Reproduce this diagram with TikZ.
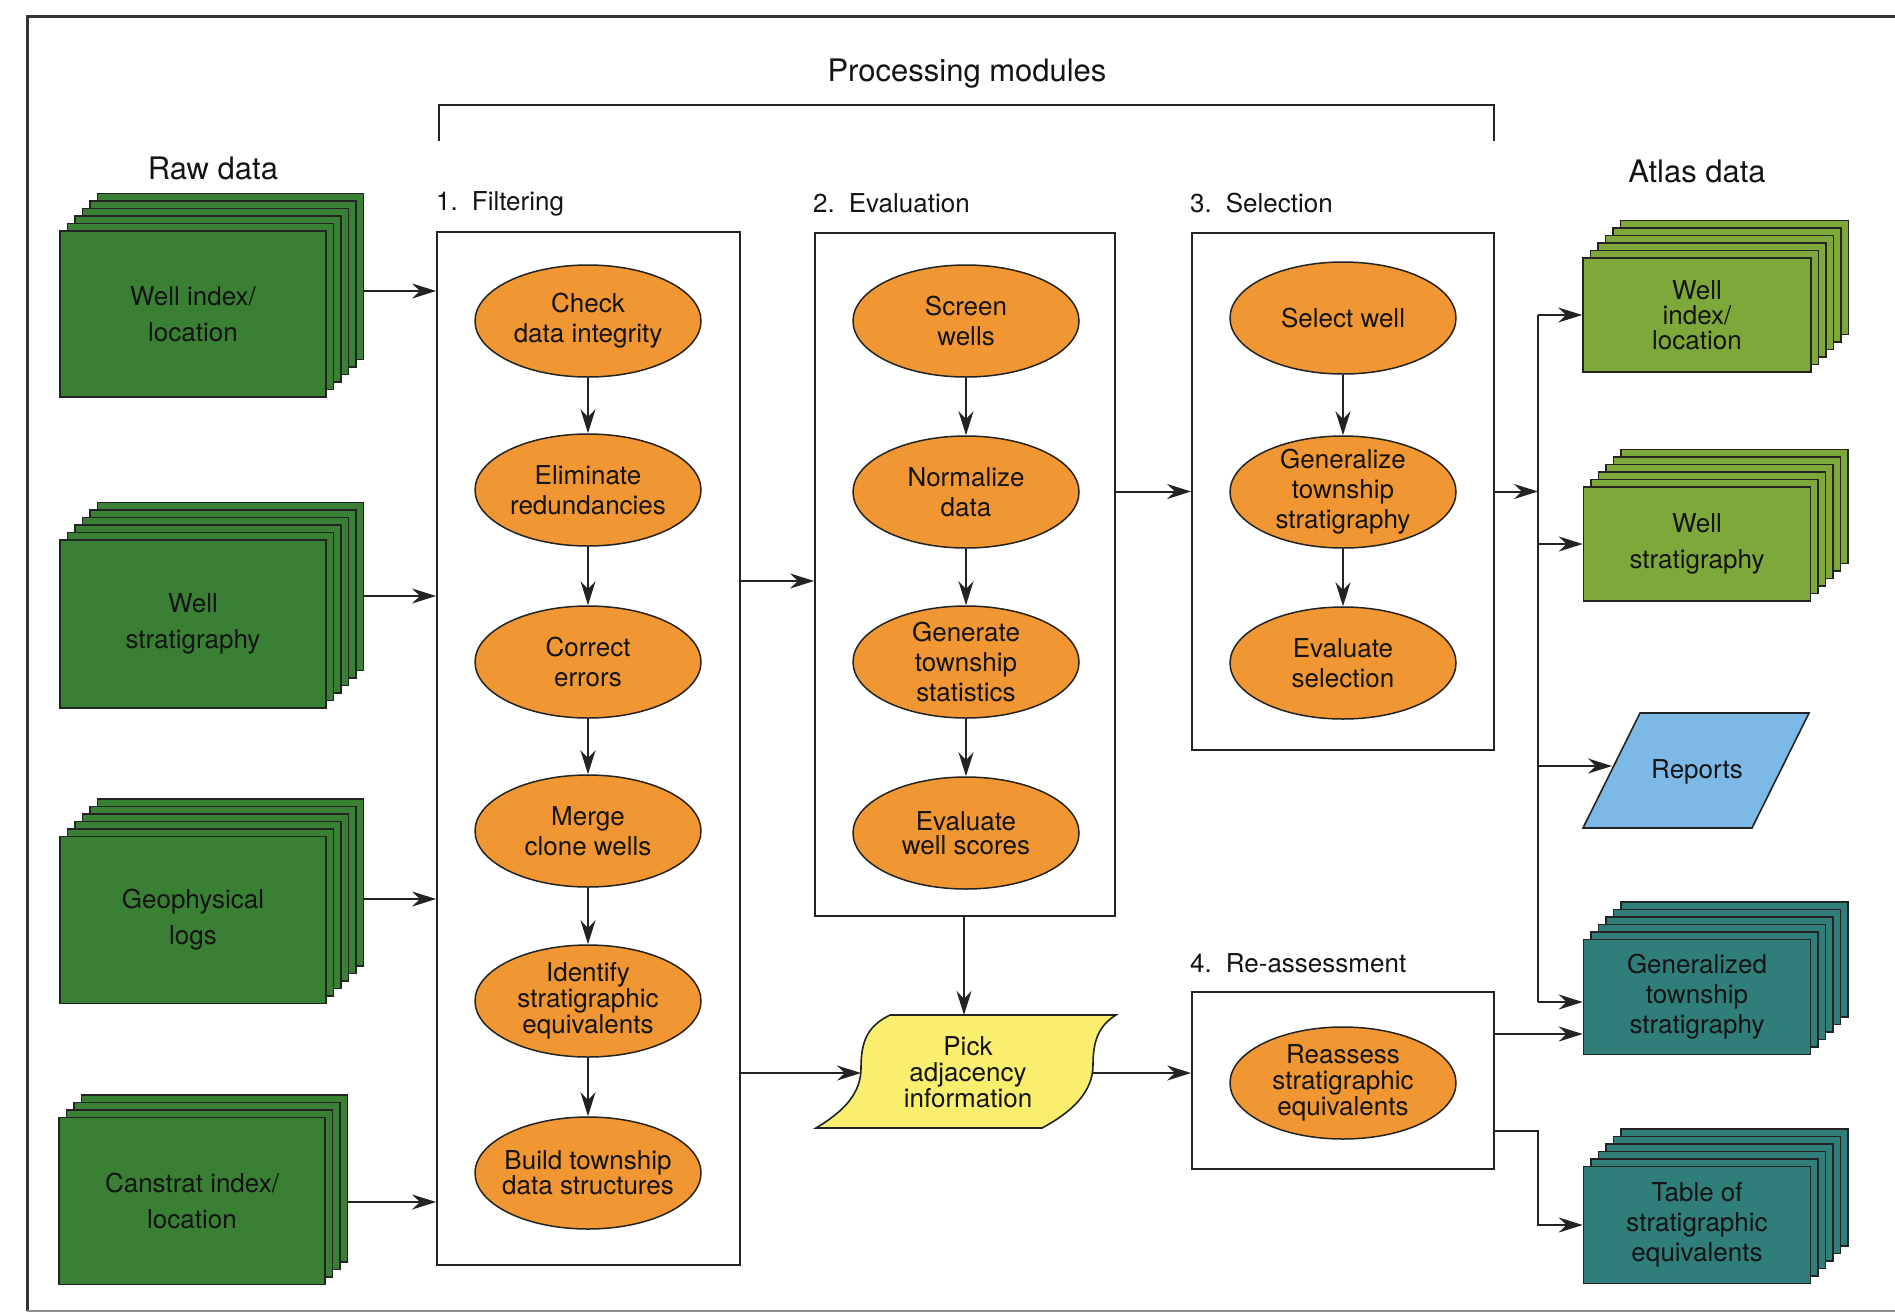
\documentclass[tikz,border=0pt]{standalone}
\usepackage{fontspec}
\setmainfont{TeX Gyre Heros}
\usetikzlibrary{arrows.meta,shapes.geometric,calc}
\definecolor{rawgreen}{RGB}{58,128,52}
\definecolor{atlasgreen}{RGB}{126,168,58}
\definecolor{atlasteal}{RGB}{48,126,122}
\definecolor{repblue}{RGB}{125,185,230}
\definecolor{procorange}{RGB}{240,150,50}
\definecolor{pickyellow}{RGB}{250,238,110}
\definecolor{textc}{RGB}{20,20,20}
\definecolor{linec}{RGB}{35,35,35}

\newcommand{\stackcard}[9]{%
  \foreach \i in {#6,...,1}{
    \filldraw[fill=#7, draw=linec, line width=1.6pt] ({#2-#4/2+\i*7.5},{#3-#5/2-\i*7.5}) rectangle ++(#4,#5);
  }
  \node[card, fill=#7, minimum width=#4, minimum height=#5, font=#8] (#1) at (#2,#3) {#9};
}

\begin{document}
\begin{tikzpicture}[x=1pt,y=-1pt,
  card/.style={draw=linec, line width=1.6pt, inner sep=0pt, align=center, text=textc},
  modbox/.style={draw=linec, line width=1.8pt, inner sep=0pt},
  proc/.style={ellipse, draw=linec, line width=1.5pt, fill=procorange, minimum width=226, minimum height=112, inner sep=0pt},
  ptext/.style={align=center, text=textc, inner sep=0pt, font=\fontsize{26}{30}\selectfont},
  title/.style={text=textc, inner sep=0pt, font=\fontsize{31}{36}\selectfont},
  modlabel/.style={text=textc, inner sep=0pt, anchor=west, font=\fontsize{26}{30}\selectfont},
  conn/.style={draw=linec, line width=2pt},
  arr/.style={conn, -{Stealth[length=24pt,width=15pt]}}
]
\useasboundingbox (0,0) rectangle (1895,1315);
\fill[white] (0,0) rectangle (1895,1315);

% outer frame
\draw[line width=3pt, black!80] (1895,16) -- (27,16) -- (27,1311);
\draw[line width=2pt, black!45] (27,1311) -- (1895,1311);

% titles
\node[title] (tProc) at (967,74) {Processing modules};
\node[title] (tRaw) at (213,168) {Raw data};
\node[title] (tAtlas) at (1697,171) {Atlas data};
\draw[conn] (439,141) -- (439,105) -- (1494,105) -- (1494,141);

\node[modlabel] (t1) at (436,204) {1.\hspace{14pt}Filtering};
\node[modlabel] (t2) at (813,203) {2.\hspace{14pt}Evaluation};
\node[modlabel] (t3) at (1190,203) {3.\hspace{14pt}Selection};
\node[modlabel] (t4) at (1190,963) {4.\hspace{14pt}Re-assessment};

% module boxes
\node[modbox, minimum width=303, minimum height=1033] (filt) at (588.5,748.5) {};
\node[modbox, minimum width=300, minimum height=683] (eval) at (965,574.5) {};
\node[modbox, minimum width=302, minimum height=517] (sel) at (1343,491.5) {};
\node[modbox, minimum width=302, minimum height=177] (reas) at (1343,1080.5) {};

% raw data stacks
\stackcard{rawA}{193}{314}{266}{166}{5}{rawgreen}{\fontsize{26}{36}\selectfont}{Well index/\\location}
\stackcard{rawB}{193}{624}{266}{168}{5}{rawgreen}{\fontsize{26}{36}\selectfont}{Well\\stratigraphy}
\stackcard{rawC}{193}{920}{266}{167}{5}{rawgreen}{\fontsize{26}{36}\selectfont}{Geophysical\\logs}
\stackcard{rawD}{192}{1201}{266}{167}{3}{rawgreen}{\fontsize{26}{36}\selectfont}{Canstrat index/\\location}

% atlas data stacks
\stackcard{atA}{1697}{315}{228}{114}{5}{atlasgreen}{\fontsize{26}{25}\selectfont}{Well\\index/\\location}
\stackcard{atB}{1697}{544}{227}{114}{5}{atlasgreen}{\fontsize{26}{36}\selectfont}{Well\\stratigraphy}
\stackcard{atG}{1697}{997}{227}{115}{5}{atlasteal}{\fontsize{26}{30}\selectfont}{Generalized\\township\\stratigraphy}
\stackcard{atT}{1697}{1225}{227}{117}{5}{atlasteal}{\fontsize{26}{30}\selectfont}{Table of\\stratigraphic\\equivalents}

% reports
\filldraw[fill=repblue, draw=linec, line width=1.6pt] (1640,713) -- (1809,713) -- (1752,828) -- (1583,828) -- cycle;
\node[ptext] (reports) at (1697,772) {Reports};
\coordinate (repL) at (1612,766);

% pick adjacency information
\filldraw[fill=pickyellow, draw=linec, line width=1.6pt]
  (890,1015) -- (1116,1015)
  .. controls (1098,1026) and (1093,1042) .. (1093,1065)
  .. controls (1093,1092) and (1072,1112) .. (1042,1128)
  -- (816,1128)
  .. controls (846,1110) and (861,1092) .. (861,1068)
  .. controls (861,1040) and (868,1026) .. (890,1015) -- cycle;
\node[ptext, font=\fontsize{26}{26}\selectfont] (pick) at (968,1072) {Pick\\adjacency\\information};
\coordinate (pickL) at (861,1073);
\coordinate (pickR) at (1093,1073);
\coordinate (pickT) at (964,1015);

% filtering processes
\node[proc, label={[ptext]center:{Check\\data integrity}}] (f1) at (588,321) {};
\node[proc, label={[ptext]center:{Eliminate\\redundancies}}] (f2) at (588,490) {};
\node[proc, label={[ptext]center:{Correct\\errors}}] (f3) at (588,662) {};
\node[proc, label={[ptext]center:{Merge\\clone wells}}] (f4) at (588,831) {};
\node[proc, label={[ptext, font=\fontsize{26}{26}\selectfont]center:{Identify\\stratigraphic\\equivalents}}] (f5) at (588,1001) {};
\node[proc, label={[ptext, font=\fontsize{26}{25}\selectfont]center:{Build township\\data structures}}] (f6) at (588,1173) {};

% evaluation processes
\node[proc, label={[ptext]center:{Screen\\wells}}] (e1) at (966,321) {};
\node[proc, label={[ptext]center:{Normalize\\data}}] (e2) at (966,492) {};
\node[proc, label={[ptext]center:{Generate\\township\\statistics}}] (e3) at (966,662) {};
\node[proc, label={[ptext, font=\fontsize{26}{24}\selectfont]center:{Evaluate\\well scores}}] (e4) at (966,833) {};

% selection processes
\node[proc, label={[ptext]center:{Select well}}] (s1) at (1343,318) {};
\node[proc, label={[ptext]center:{Generalize\\township\\stratigraphy}}] (s2) at (1343,492) {};
\node[proc, label={[ptext]center:{Evaluate\\selection}}] (s3) at (1343,663) {};

% re-assessment
\node[proc, label={[ptext, font=\fontsize{26}{26}\selectfont]center:{Reassess\\stratigraphic\\equivalents}}] (r1) at (1343,1083) {};

% arrows inside modules
\foreach \a/\b in {f1/f2,f2/f3,f3/f4,f4/f5,f5/f6,e1/e2,e2/e3,e3/e4,s1/s2,s2/s3}
  \draw[arr] (\a.south) -- (\b.north);

% raw data to filtering
\coordinate (rAo) at (363,291);
\coordinate (rBo) at (363,596);
\coordinate (rCo) at (363,899);
\coordinate (rDo) at (348,1202);
\foreach \c in {rAo,rBo,rCo,rDo}
  \draw[arr] (\c) -- (\c -| filt.west);

% between modules
\coordinate (yEv) at (0,581);
\coordinate (yPk) at (0,1073);
\draw[arr] (filt.east |- yEv) -- (eval.west |- yEv);
\draw[arr] (filt.east |- yPk) -- (pickL);
\draw[arr] (eval.south -| pickT) -- (pickT);
\draw[arr] (pickR) -- (reas.west |- pickR);
\draw[arr] (eval.east |- sel.west) -- (sel.west);

% outputs
\coordinate (bus) at (1538,0);
\coordinate (yG) at (0,1002);
\coordinate (yR1) at (0,1034);
\coordinate (yR2) at (0,1131);
\draw[conn] (bus |- atA.west) -- (bus |- yG);
\draw[arr] (bus |- atA.west) -- (atA.west);
\draw[arr] (sel.east) -- (sel.east -| bus);
\draw[arr] (bus |- atB.west) -- (atB.west);
\draw[arr] (bus |- repL) -- (repL);
\draw[arr] (bus |- yG) -- (atG.west |- yG);
\draw[arr] (reas.east |- yR1) -- (atG.west |- yR1);
\draw[arr] (reas.east |- yR2) -- (bus |- yR2) -- (bus |- atT.west) -- (atT.west);

\end{tikzpicture}
\end{document}
